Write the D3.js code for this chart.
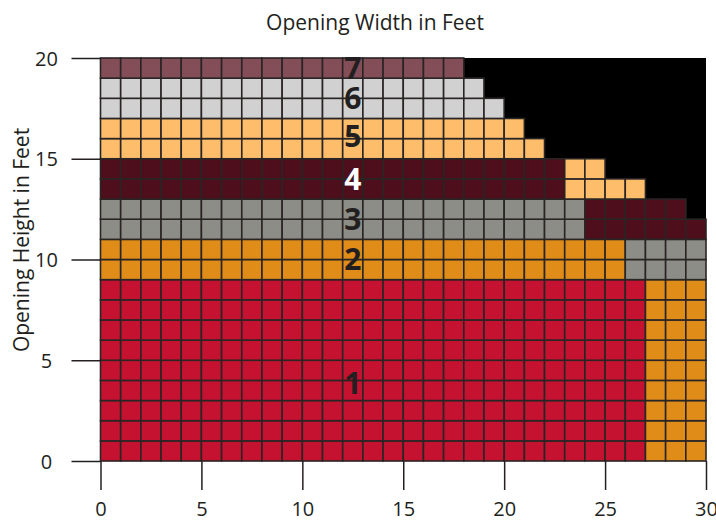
<!DOCTYPE html>
<html>
<head>
<meta charset="utf-8">
<script src="https://cdn.jsdelivr.net/npm/d3@7"></script>
<style>
    body { margin: 0; background: #fff; }
    svg text { font-family: "Open Sans", sans-serif; fill: #231f20; }
    .axis path.domain { display: none; }
    .axis line { stroke: #231f20; stroke-width: 1.5; }
</style>
</head>
<body>
<div id="chart"></div>
<script>
// Zones, one per colour band
var zones = ["1", "2", "3", "4", "5", "6", "7"];

// For every row of the grid (bottom row first) the zone of each run
// and the foot where that run stops
var rowSpans = [
    [["1", 27], ["2", 30]],
    [["1", 27], ["2", 30]],
    [["1", 27], ["2", 30]],
    [["1", 27], ["2", 30]],
    [["1", 27], ["2", 30]],
    [["1", 27], ["2", 30]],
    [["1", 27], ["2", 30]],
    [["1", 27], ["2", 30]],
    [["1", 27], ["2", 30]],
    [["2", 26], ["3", 30]],
    [["2", 26], ["3", 30]],
    [["3", 24], ["4", 30]],
    [["3", 24], ["4", 29]],
    [["4", 23], ["5", 27]],
    [["4", 23], ["5", 25]],
    [["5", 22]],
    [["5", 21]],
    [["6", 20]],
    [["6", 19]],
    [["7", 18]]
];

// Where the zone numbers sit (feet)
var labelWidth = [12.5, 12.5, 12.5, 12.5, 12.5, 12.5, 12.5];
var labelHeight = [3.85, 10, 12, 14, 16.1, 18, 19.5];

var xTicks = [0, 5, 10, 15, 20, 25, 30];
var yTicks = [0, 5, 10, 15, 20];

var width = 716, height = 521;
var margin = { top: 58, right: 10, bottom: 60, left: 100.5 };

var svg = d3.select("#chart").append("svg")
    .attr("width", width)
    .attr("height", height);

var xScale = d3.scaleLinear()
    .domain([0, 30])
    .range([margin.left, width - margin.right]);

var yScale = d3.scaleLinear()
    .domain([0, 20])
    .range([height - margin.bottom, margin.top]);

var colour = d3.scaleOrdinal()
    .domain(zones)
    .range(["#c41230", "#df8c19", "#8c8d86", "#4e0e1b", "#fdbd6b", "#d1d1d1", "#844e59"]);

// Build the one-foot cells out of the row runs
var cells = [];
rowSpans.forEach(function (spans, row) {
    var start = 0;
    spans.forEach(function (s) {
        for (var x = start; x < s[1]; x++) {
            cells.push({ x: x, y: row, zone: s[0] });
        }
        start = s[1];
    });
});

// Black backdrop for the area no zone covers
svg.append("rect")
    .attr("x", xScale(0))
    .attr("y", yScale(20))
    .attr("width", xScale(30) - xScale(0))
    .attr("height", yScale(0) - yScale(20))
    .attr("fill", "#000");

svg.append("g")
    .selectAll("rect")
    .data(cells)
    .enter().append("rect")
    .attr("x", function (d) { return xScale(d.x); })
    .attr("y", function (d) { return yScale(d.y + 1); })
    .attr("width", function (d) { return xScale(d.x + 1) - xScale(d.x); })
    .attr("height", function (d) { return yScale(d.y) - yScale(d.y + 1); })
    .attr("fill", function (d) { return colour(d.zone); })
    .attr("stroke", "#2a2525")
    .attr("stroke-width", 1.6);

// Axes
var xAxis = svg.append("g")
    .attr("class", "x axis")
    .attr("transform", "translate(0," + yScale(0) + ")")
    .call(d3.axisBottom(xScale).tickValues(xTicks).tickSize(29).tickSizeOuter(0));
xAxis.selectAll("text")
    .attr("y", 55)
    .attr("dy", 0)
    .style("font-size", "20px")
    .style("fill", "#231f20");

var yAxis = svg.append("g")
    .attr("class", "y axis")
    .attr("transform", "translate(" + xScale(0) + ",0)")
    .call(d3.axisLeft(yScale).tickValues(yTicks).tickSize(29).tickSizeOuter(0));
yAxis.selectAll("text")
    .attr("x", -54)
    .attr("dy", "0.36em")
    .attr("text-anchor", "middle")
    .style("font-size", "20px")
    .style("fill", "#231f20");

// Zone numbers
svg.append("g")
    .selectAll("text")
    .data(zones)
    .enter().append("text")
    .attr("x", function (d, i) { return xScale(labelWidth[i]); })
    .attr("y", function (d, i) { return yScale(labelHeight[i]); })
    .attr("dy", "0.36em")
    .attr("text-anchor", "middle")
    .style("font-size", "30px")
    .style("font-weight", "bold")
    .style("fill", function (d) { return d == "4" ? "#fff" : "#231f20"; })
    .text(function (d) { return d; });

// Titles
svg.append("text")
    .attr("x", 375)
    .attr("y", 30)
    .attr("text-anchor", "middle")
    .style("font-size", "21px")
    .text("Opening Width in Feet");

svg.append("text")
    .attr("transform", "translate(29,240) rotate(-90)")
    .attr("text-anchor", "middle")
    .style("font-size", "21px")
    .text("Opening Height in Feet");
</script>
</body>
</html>
